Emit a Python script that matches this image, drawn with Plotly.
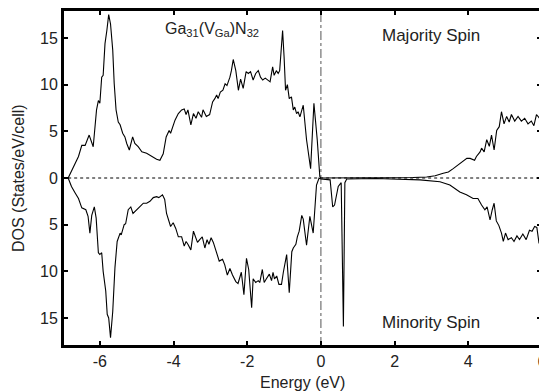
import plotly.graph_objects as go

# Majority spin DOS (upper panel)
maj_energy = [-6.86, -6.72, -6.58, -6.49, -6.40, -6.29, -6.18, -6.09, -6.04, -6.00,
              -5.95, -5.91, -5.86, -5.81, -5.76, -5.71, -5.65, -5.61, -5.56, -5.50,
              -5.45, -5.38, -5.32, -5.27, -5.20, -5.11, -5.05, -4.96, -4.86, -4.73,
              -4.64, -4.55, -4.46, -4.37, -4.28, -4.20, -4.12, -4.08, -3.96, -3.87,
              -3.78, -3.71, -3.66, -3.61, -3.53, -3.46, -3.39, -3.33, -3.24, -3.20,
              -3.11, -3.02, -2.94, -2.88, -2.83, -2.79, -2.73, -2.66, -2.60, -2.55,
              -2.47, -2.43, -2.38, -2.31, -2.24, -2.18, -2.11, -2.03, -1.97, -1.91,
              -1.84, -1.77, -1.70, -1.64, -1.58, -1.51, -1.44, -1.38, -1.31, -1.27,
              -1.21, -1.16, -1.12, -1.04, -1.00, -0.96, -0.91, -0.86, -0.80, -0.75,
              -0.71, -0.66, -0.62, -0.57, -0.48, -0.39, -0.28, -0.19, -0.10, -0.03,
              0.00, 1.00, 2.00, 2.50, 2.87, 3.10, 3.32, 3.46, 3.59, 3.73,
              3.82, 3.96, 4.05, 4.17, 4.22, 4.32, 4.36, 4.43, 4.50, 4.57,
              4.63, 4.70, 4.77, 4.84, 4.90, 4.97, 5.04, 5.11, 5.17, 5.26,
              5.35, 5.44, 5.53, 5.62, 5.71, 5.78, 5.85, 5.93, 6.00]
maj_dos = [0.0, 1.2, 2.3, 3.5, 3.5, 4.6, 3.35, 7.3, 8.3, 8.0,
           10.8, 11.0, 14.4, 15.8, 17.5, 16.5, 13.7, 10.1, 7.3, 6.0,
           5.7, 4.8, 4.4, 3.7, 3.0, 4.4, 3.7, 3.35, 2.8, 2.65,
           2.45, 2.2, 2.0, 1.9, 2.6, 4.4, 5.1, 4.8, 6.2, 6.9,
           7.3, 7.4, 6.8, 7.3, 5.7, 6.9, 6.4, 7.1, 6.5, 7.3,
           6.6, 6.8, 8.15, 8.5, 8.9, 8.5, 9.2, 9.4, 10.1, 9.9,
           10.8, 11.5, 12.7, 11.5, 9.4, 10.6, 9.6, 11.4, 11.2, 11.4,
           10.5, 11.2, 11.5, 10.8, 10.5, 10.7, 10.5, 10.3, 11.9, 11.0,
           11.5, 11.2, 11.5, 15.8, 13.0, 9.4, 10.0, 8.5, 8.7, 7.3,
           7.6, 6.9, 7.1, 6.55, 7.8, 4.1, 1.0, 8.0, 4.1, 0.15,
           0.0, 0.0, 0.02, 0.05, 0.1, 0.25, 0.5, 0.65, 1.0, 1.4,
           1.75, 2.1, 2.1, 1.9, 2.3, 2.8, 3.2, 2.8, 4.1, 3.4,
           4.6, 3.0, 5.1, 5.5, 7.1, 5.8, 6.6, 6.0, 6.8, 6.1,
           6.6, 6.1, 6.4, 5.8, 6.1, 5.6, 6.8, 6.4, 5.9]

# Minority spin DOS (lower panel, magnitudes)
min_energy = [-6.86, -6.77, -6.67, -6.58, -6.49, -6.38, -6.32, -6.27, -6.22, -6.15,
              -6.10, -6.04, -6.00, -5.95, -5.91, -5.84, -5.80, -5.76, -5.71, -5.65,
              -5.59, -5.53, -5.45, -5.42, -5.34, -5.30, -5.23, -5.16, -5.10, -5.01,
              -4.92, -4.82, -4.73, -4.64, -4.55, -4.46, -4.40, -4.30, -4.24, -4.19,
              -4.15, -4.08, -4.01, -3.94, -3.87, -3.78, -3.71, -3.66, -3.61, -3.53,
              -3.46, -3.40, -3.35, -3.29, -3.22, -3.15, -3.09, -3.04, -2.98, -2.92,
              -2.83, -2.76, -2.67, -2.61, -2.54, -2.47, -2.40, -2.31, -2.25, -2.16,
              -2.09, -2.02, -1.96, -1.88, -1.84, -1.77, -1.70, -1.66, -1.59, -1.54,
              -1.48, -1.40, -1.34, -1.30, -1.26, -1.20, -1.14, -1.07, -1.02, -0.93,
              -0.86, -0.79, -0.75, -0.68, -0.64, -0.59, -0.52, -0.48, -0.39, -0.30,
              -0.21, -0.12, -0.05, 0.00, 0.25, 0.32, 0.37, 0.47, 0.55, 0.61,
              0.65, 0.70, 1.50, 2.20, 2.69, 3.23, 3.50, 3.77, 3.95, 4.13,
              4.26, 4.36, 4.45, 4.51, 4.59, 4.65, 4.70, 4.76, 4.83, 4.90,
              4.95, 5.01, 5.08, 5.17, 5.24, 5.32, 5.39, 5.48, 5.57, 5.66,
              5.73, 5.80, 5.86, 5.92, 6.00]
min_dos = [0.0, 0.9, 1.6, 2.2, 3.2, 3.4, 4.1, 5.9, 4.0, 3.1,
           4.3, 8.0, 8.2, 8.0, 10.0, 12.1, 14.6, 15.0, 17.1, 14.3,
           9.6, 6.8, 5.9, 6.1, 5.0, 4.9, 3.4, 3.1, 3.8, 3.4,
           3.1, 2.7, 2.7, 2.5, 2.1, 2.0, 2.1, 1.8, 2.3, 3.8,
           4.3, 5.2, 4.8, 5.4, 6.3, 6.3, 7.3, 6.8, 7.1, 7.7,
           5.7, 6.4, 6.9, 6.6, 6.3, 7.5, 6.6, 7.1, 6.4, 6.9,
           7.9, 8.9, 8.7, 9.3, 10.4, 9.7, 10.4, 11.1, 11.3, 10.1,
           12.5, 8.6, 9.8, 13.9, 10.8, 11.2, 11.0, 11.2, 9.8, 11.2,
           10.8, 10.3, 11.0, 10.1, 10.8, 10.5, 11.4, 11.4, 10.1, 8.2,
           12.3, 7.9, 7.5, 7.1, 6.3, 5.7, 4.0, 4.4, 7.2, 4.1,
           5.9, 0.75, 0.0, 0.1, 0.2, 3.1, 2.9, 0.9, 0.5, 15.9,
           0.5, 0.1, 0.05, 0.1, 0.2, 0.4, 0.75, 1.5, 1.8, 2.2,
           2.2, 2.9, 3.4, 3.1, 4.5, 3.4, 2.7, 4.6, 5.1, 5.9,
           6.8, 5.9, 6.6, 6.4, 6.8, 6.2, 6.6, 6.0, 6.6, 5.6,
           5.7, 5.2, 5.3, 7.0, 6.3]

y_tickvals = [15, 10, 5, 0, -5, -10, -15]
y_ticktext = ["15", "10", "5", "0", "5", "10", "15"]
x_tickvals = [-6, -4, -2, 0, 2, 4, 6]
x_ticktext = ["-6", "-4", "-2", "0", "2", "4", "6"]

FONT = "Liberation Sans, Arial, Helvetica, sans-serif"
TXT = "#222222"

fig = go.Figure()
fig.add_trace(go.Scatter(x=maj_energy, y=maj_dos, mode="lines",
                         line=dict(color="black", width=1.1), showlegend=False))
fig.add_trace(go.Scatter(x=min_energy, y=[-v for v in min_dos], mode="lines",
                         line=dict(color="black", width=1.1), showlegend=False))

# zero reference lines
fig.add_shape(type="line", xref="x", yref="y", x0=-6.86, x1=6, y0=0, y1=0,
              line=dict(color="black", width=1, dash="dot"), layer="below")
fig.add_shape(type="line", xref="x", yref="y", x0=0, x1=0, y0=-18, y1=18,
              line=dict(color="#555555", width=1, dash="dashdot"), layer="below")
# frame
fig.add_shape(type="rect", xref="paper", yref="paper", x0=0, x1=1, y0=0, y1=1,
              line=dict(color="black", width=2), fillcolor="rgba(0,0,0,0)", layer="above")

ann_font = dict(family=FONT, size=16, color=TXT)
spin_font = dict(family=FONT, size=17, color=TXT)
fig.add_annotation(x=-2.95, y=15.9, xref="x", yref="y",
                   text="Ga<sub>31</sub>(V<sub>Ga</sub>)N<sub>32</sub>",
                   showarrow=False, font=ann_font)
fig.add_annotation(x=3.0, y=15.3, xref="x", yref="y", text="Majority Spin",
                   showarrow=False, font=spin_font)
fig.add_annotation(x=3.0, y=-15.5, xref="x", yref="y", text="Minority Spin",
                   showarrow=False, font=spin_font)

# axis titles
fig.add_annotation(x=0.5, y=0, xref="paper", yref="paper", yshift=-36,
                   yanchor="middle", text="Energy (eV)", showarrow=False, font=ann_font)
fig.add_annotation(x=0, y=0.5, xref="paper", yref="paper", xshift=-45,
                   text="DOS (States/eV/cell)", showarrow=False, textangle=-90,
                   font=ann_font, xanchor="center", yanchor="middle")

axis_common = dict(showline=True, linecolor="black", linewidth=2, mirror="allticks",
                   ticks="inside", ticklen=5, tickwidth=1.5, tickcolor="black",
                   showgrid=False, zeroline=False, automargin=False,
                   tickfont=dict(family=FONT, size=16, color=TXT))

fig.update_xaxes(range=[-7, 6], tickvals=x_tickvals, ticktext=x_ticktext, **axis_common)
fig.update_yaxes(range=[-18, 18], tickvals=y_tickvals, ticktext=y_ticktext, **axis_common)

# page body has an 8px default margin; size the figure so the plot area lands
# at x 63..542, y 10..346 in the 547x392 window
fig.update_layout(width=539, height=384,
                  margin=dict(l=55, r=5, t=2, b=46, autoexpand=False),
                  plot_bgcolor="white", paper_bgcolor="white")

fig.write_html("out.html")
